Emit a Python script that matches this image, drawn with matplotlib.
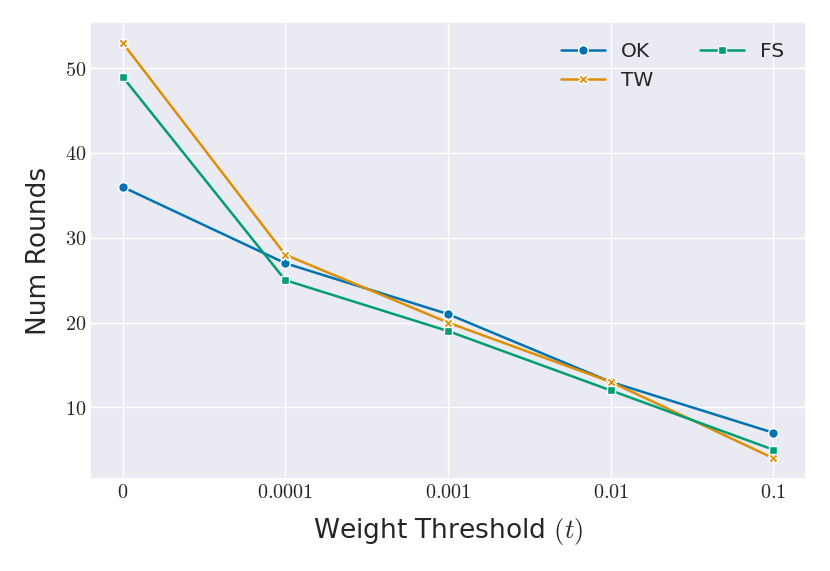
import matplotlib
matplotlib.use("Agg")
import matplotlib.pyplot as plt
import seaborn as sns
import numpy as np

thresholds = ["0", "0.0001", "0.001", "0.01", "0.1"]
ok_vals = [36, 27, 21, 13, 7]
tw_vals = [53, 28, 20, 13, 4]
fs_vals = [49, 25, 19, 12, 5]

sns.set_theme(style="darkgrid")
plt.rcParams['mathtext.fontset'] = 'cm'
plt.rcParams['font.family'] = ['DejaVu Sans']
pal = sns.color_palette("colorblind")

fig = plt.figure(figsize=(8.3, 5.71), dpi=100)
ax = fig.add_axes([90/830, 1-479/571, (806-90)/830, (479-22)/571])

x = np.arange(len(thresholds))
ax.plot(x, ok_vals, color=pal[0], marker='o', markersize=7, markeredgecolor='white', markeredgewidth=1, lw=1.8, label='OK')
ax.plot(x, tw_vals, color=pal[1], marker='X', markersize=7, markeredgecolor='white', markeredgewidth=1, lw=1.8, label='TW')
ax.plot(x, fs_vals, color=pal[2], marker='s', markersize=6, markeredgecolor='white', markeredgewidth=1, lw=1.8, label='FS')

ax.set_xticks(x)
ax.set_xticklabels([f"${t}$" for t in thresholds], fontsize=14.5)
yt = [10, 20, 30, 40, 50]
ax.set_yticks(yt)
ax.set_yticklabels([f"${v}$" for v in yt], fontsize=14.5)
ax.set_xlim(-0.2, 4.2)
ax.set_ylim(1.55, 55.45)
ax.set_xlabel(r"Weight Threshold $(t)$", fontsize=19, labelpad=10)
ax.set_ylabel("Num Rounds", fontsize=19, labelpad=9)
ax.tick_params(axis='both', pad=3, length=0)
leg = ax.legend(ncol=2, loc='upper right', fontsize=14.5, frameon=False, columnspacing=2.3,
                handlelength=2.2, bbox_to_anchor=(0.995, 0.995))

fig.savefig("out.png", dpi=100)
